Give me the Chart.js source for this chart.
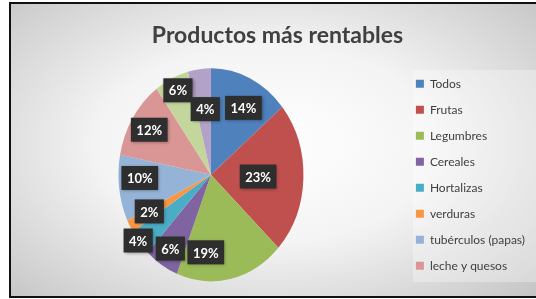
<!DOCTYPE html>
<html>
<head>
<meta charset="utf-8">
<script src="https://cdn.jsdelivr.net/npm/chart.js@4/dist/chart.umd.min.js"></script>
<style>
  html, body { margin: 0; padding: 0; background: #fff; }
  #marco {
    position: absolute; left: 9px; top: 2px; width: 535px; height: 292px;
    border: 2px solid #111;
    background: radial-gradient(ellipse 70% 75% at 48% 48%, #ffffff 0%, #f4f4f4 45%, #d2d2d2 85%, #c4c4c4 100%);
  }
  #grafico { position: absolute; left: 0; top: 0; }
</style>
</head>
<body>
<div id="marco"></div>
<canvas id="grafico" width="536" height="299"></canvas>
<script>
// datos
var categorias = ["Todos", "Frutas", "Legumbres", "Cereales", "Hortalizas", "verduras",
                  "tubérculos (papas)", "leche y quesos", "", ""];
var porcentajes = [14, 23, 19, 6, 4, 2, 10, 12, 6, 4];
var enLeyenda = 8; // la leyenda original solo muestra las 8 primeras

var colores = ["#4F81BD", "#C0504D", "#9BBB59", "#8064A2", "#4BACC6", "#F79646",
               "#95B3D7", "#D99694", "#C3D69B", "#B3A2C7"];
// posicion de las etiquetas: fraccion del radio y giro en grados
var distEtiqueta = [0.72, 0.51, 0.73, 0.82, 1.0, 0.75, 0.77, 0.79, 0.87, 0.62];
var giroEtiqueta = [4, 0, 17, 0, 1.5, 1.5, 5, 0, 1, 1.5];
// la torta original sale un poco estirada en vertical
var escalaX = 0.925, escalaY = 1.065;

var torta = {
    id: "torta",
    beforeDatasetsDraw: function (chart) {
        var a = chart.getDatasetMeta(0).data[0];
        var c = chart.ctx;
        c.save();
        c.translate(a.x, a.y);
        c.scale(escalaX, escalaY);
        c.translate(-a.x, -a.y);
    },
    afterDatasetsDraw: function (chart) {
        var c = chart.ctx;
        c.restore();
        var arcos = chart.getDatasetMeta(0).data;
        c.save();
        c.font = "bold 13px Lato, 'Open Sans', sans-serif";
        c.textAlign = "center";
        c.textBaseline = "middle";
        arcos.forEach(function (a, i) {
            var mid = (a.startAngle + a.endAngle) / 2 + giroEtiqueta[i] * Math.PI / 180;
            var r = a.outerRadius * distEtiqueta[i];
            var x = a.x + Math.cos(mid) * r * escalaX;
            var y = a.y + Math.sin(mid) * r * escalaY;
            var txt = porcentajes[i] + "%";
            var w = c.measureText(txt).width + 11;
            var h = 24;
            c.shadowColor = "rgba(0,0,0,0.35)";
            c.shadowBlur = 3;
            c.shadowOffsetX = 1;
            c.shadowOffsetY = 1;
            c.fillStyle = "#2e2e2e";
            c.fillRect(x - w / 2, y - h / 2, w, h);
            c.shadowColor = "transparent";
            c.fillStyle = "#ffffff";
            c.fillText(txt, x, y + 1);
        });
        c.restore();
    }
};

var panelLeyenda = {
    id: "panelLeyenda",
    beforeDraw: function (chart) {
        var c = chart.ctx;
        c.save();
        c.fillStyle = "rgba(255,255,255,0.30)";
        c.fillRect(413, 70, 123, 212);
        c.restore();
    }
};

var ctx = document.getElementById("grafico").getContext("2d");
var grafico = new Chart(ctx, {
    type: "pie",
    data: {
        labels: categorias,
        datasets: [{
            data: porcentajes,
            backgroundColor: colores,
            borderWidth: 0,
            radius: 100
        }]
    },
    options: {
        responsive: false,
        animation: false,
        layout: { padding: { left: 20, right: 1, top: 0, bottom: 9 } },
        plugins: {
            title: {
                display: true,
                text: "Productos más rentables",
                color: "#404040",
                font: { family: "Lato, 'Open Sans', sans-serif", size: 23, weight: "bold" },
                padding: { top: 22, bottom: 10 }
            },
            legend: {
                position: "right",
                fullSize: false,
                labels: {
                    color: "#404040",
                    font: { family: "Lato, 'Open Sans', sans-serif", size: 12 },
                    boxWidth: 8,
                    boxHeight: 8,
                    padding: 14,
                    filter: function (item) { return item.index < enLeyenda; }
                }
            },
            tooltip: { enabled: false }
        }
    },
    plugins: [torta, panelLeyenda]
});
</script>
</body>
</html>
